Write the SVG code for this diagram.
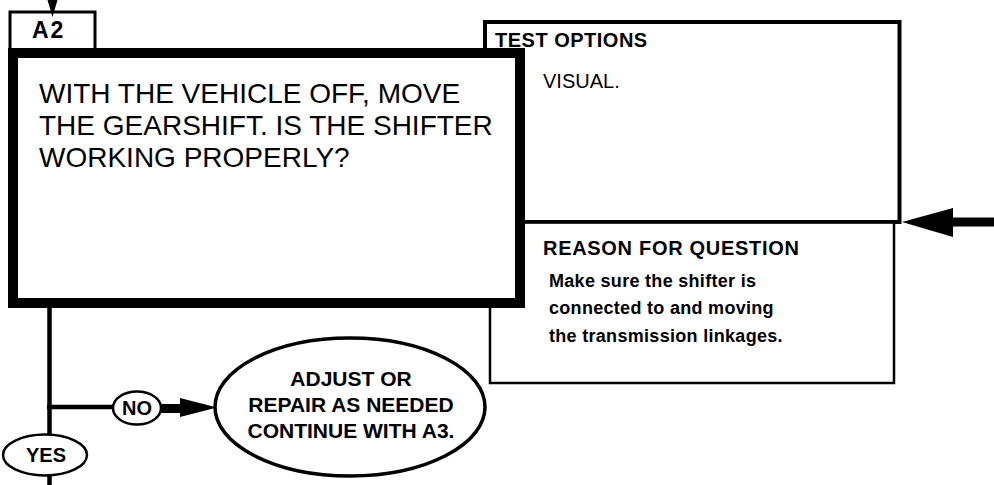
<svg xmlns="http://www.w3.org/2000/svg" width="994" height="485" viewBox="0 0 994 485">
<style>
.t{font-family:"Liberation Sans",Arial,sans-serif;fill:#000}
.b{font-weight:bold}
.ln{stroke:#000;fill:none}
</style>
<rect width="994" height="485" fill="#fff"/>
<g id="test-options">
<rect x="485" y="22" width="414.5" height="200" fill="#fff" stroke="#000" stroke-width="4"/>
<text class="t b" x="495" y="47" font-size="20" letter-spacing="0.5">TEST OPTIONS</text>
<text class="t" x="543" y="88" font-size="20">VISUAL.</text>
</g>
<g id="reason">
<rect x="490" y="222" width="404" height="161" fill="#fff" stroke="#000" stroke-width="2.5"/>
<line x1="485" y1="222" x2="901" y2="222" stroke="#000" stroke-width="3.5"/>
<text class="t b" x="543" y="255" font-size="20" letter-spacing="0.7">REASON FOR QUESTION</text>
<text class="t b" font-size="18" letter-spacing="0.3"><tspan x="549" y="287">Make sure the shifter is</tspan><tspan x="549" y="314">connected to and moving</tspan><tspan x="549" y="342">the transmission linkages.</tspan></text>
</g>
<g id="a2-tab">
<rect x="10" y="12" width="85" height="40" fill="#fff" stroke="#000" stroke-width="3"/>
<text class="t b" x="32" y="38" font-size="23" letter-spacing="2">A2</text>
</g>
<g id="a2-question">
<rect x="13" y="53" width="507" height="250" fill="#fff" stroke="#000" stroke-width="10"/>
<text class="t" font-size="28"><tspan x="39" y="103">WITH THE VEHICLE OFF, MOVE</tspan><tspan x="39" y="135">THE GEARSHIFT. IS THE SHIFTER</tspan><tspan x="39" y="167">WORKING PROPERLY?</tspan></text>
</g>
<g id="no">
<ellipse cx="137" cy="408" rx="24" ry="16.5" fill="#fff" stroke="#000" stroke-width="2.5"/>
<text class="t b" x="137" y="415" font-size="20" text-anchor="middle">NO</text>
</g>
<g id="yes">
<ellipse cx="45" cy="455" rx="42" ry="20.5" fill="#fff" stroke="#000" stroke-width="2.5"/>
<text class="t b" x="46" y="462" font-size="20" text-anchor="middle">YES</text>
</g>
<g id="adjust">
<ellipse cx="350" cy="407" rx="135" ry="69" fill="#fff" stroke="#000" stroke-width="3.5"/>
<text class="t b" font-size="21" text-anchor="middle"><tspan x="351" y="386">ADJUST OR</tspan><tspan x="351" y="412">REPAIR AS NEEDED</tspan><tspan x="351" y="438">CONTINUE WITH A3.</tspan></text>
</g>
<g id="connectors">
<line class="ln" x1="52.5" y1="0" x2="52.5" y2="8" stroke-width="3"/>
<polygon points="47.5,0 57.5,0 52.5,17"/>
<line class="ln" x1="49.5" y1="306" x2="49.5" y2="435" stroke-width="4.5"/>
<line class="ln" x1="49.5" y1="475" x2="49.5" y2="485" stroke-width="4.5"/>
<line class="ln" x1="47" y1="407" x2="113" y2="407" stroke-width="4.5"/>
<line class="ln" x1="161" y1="408.5" x2="184" y2="408.5" stroke-width="9"/>
<polygon points="180,398 217,407.5 180,417"/>
<line class="ln" x1="950" y1="222" x2="994" y2="222" stroke-width="9"/>
<polygon points="953,208 902,222 953,237"/>
</g>
</svg>
